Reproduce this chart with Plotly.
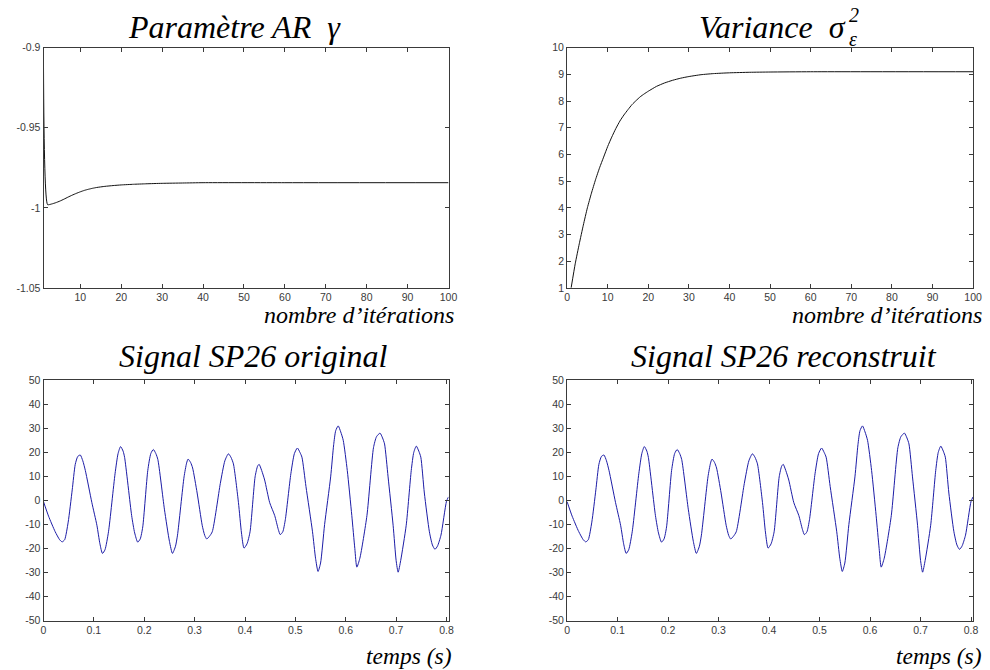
import plotly.graph_objects as go

W, H = 990, 670

# ---------------- data ----------------
gamma_iter = [1, 2, 3, 4, 5, 6, 7, 8, 9, 10, 11, 12, 13, 14, 16, 18, 20, 23, 26, 30, 35, 40, 60, 100]
gamma_vals = [-0.912, -0.998, -0.9976, -0.9968, -0.9958, -0.9946, -0.9933, -0.9921,
              -0.9910, -0.9900, -0.9891, -0.9884, -0.9878, -0.9873, -0.9866, -0.9861,
              -0.9857, -0.9853, -0.9850, -0.9847, -0.9845, -0.9843, -0.9843, -0.9843]

var_iter = [1, 2, 3, 4, 5, 6, 7, 8, 9, 10, 11, 12, 13, 14, 15, 16, 17, 18, 19, 20,
            22, 24, 26, 28, 30, 33, 36, 40, 45, 50, 60, 100]
var_vals = [1.0, 1.9, 2.65, 3.35, 4.0, 4.55, 5.05, 5.5, 5.9, 6.3, 6.65, 6.97, 7.25,
            7.48, 7.68, 7.87, 8.02, 8.16, 8.27, 8.37, 8.55, 8.68, 8.78, 8.86, 8.92,
            8.99, 9.03, 9.06, 9.08, 9.09, 9.1, 9.1]

t_signal = [0.000, 0.010, 0.023, 0.032, 0.037, 0.042, 0.049, 0.057, 0.063, 0.068,
            0.073, 0.078, 0.083, 0.096, 0.106, 0.112, 0.117, 0.122, 0.129, 0.142,
            0.148, 0.153, 0.158, 0.161, 0.175, 0.181, 0.187, 0.192, 0.197, 0.207,
            0.213, 0.218, 0.223, 0.227, 0.240, 0.250, 0.256, 0.262, 0.266, 0.279,
            0.284, 0.287, 0.292, 0.296, 0.305, 0.315, 0.320, 0.324, 0.329, 0.335,
            0.351, 0.360, 0.367, 0.372, 0.377, 0.387, 0.393, 0.398, 0.404, 0.410,
            0.420, 0.425, 0.428, 0.433, 0.439, 0.449, 0.459, 0.466, 0.470, 0.475,
            0.480, 0.491, 0.498, 0.504, 0.509, 0.513, 0.521, 0.534, 0.540, 0.545,
            0.550, 0.558, 0.570, 0.576, 0.580, 0.585, 0.590, 0.595, 0.603, 0.612,
            0.618, 0.622, 0.628, 0.642, 0.655, 0.661, 0.668, 0.673, 0.677, 0.684,
            0.694, 0.700, 0.704, 0.709, 0.720, 0.730, 0.735, 0.740, 0.745, 0.749,
            0.756, 0.766, 0.772, 0.777, 0.782, 0.789, 0.800, 0.804]
signal_original = [-0.5, -6.5, -12.9, -16.3, -17.2, -16.3, -9.0, 4.4, 15.0, 18.3,
                   18.9, 16.5, 12.5, -0.9, -10.3, -18.0, -22.0, -20.5, -13.0, 11.1,
                   19.5, 22.4, 20.5, 17.9, -6.3, -13.5, -17.3, -16.0, -11.0, 12.5,
                   19.5, 21.2, 19.5, 17.0, -3.6, -17.0, -22.0, -19.0, -14.4, 9.8,
                   15.5, 17.2, 15.8, 13.5, 3.1, -10.3, -14.5, -16.0, -15.0, -13.0,
                   7.1, 16.5, 19.4, 18.0, 15.2, -0.9, -13.5, -19.8, -18.0, -13.0,
                   9.8, 14.3, 15.0, 12.5, 8.5, -0.9, -6.3, -12.0, -14.2, -13.0,
                   -8.0, 11.1, 19.5, 21.8, 20.0, 18.0, 5.8, -13.0, -24.0, -29.5,
                   -26.0, -10.0, 9.8, 23.2, 29.0, 31.0, 28.5, 25.0, 12.5, -6.3,
                   -20.0, -27.7, -24.0, -6.3, 21.9, 26.5, 28.0, 26.0, 23.5, 9.8,
                   -10.3, -25.0, -29.8, -25.0, -10.3, 12.5, 20.0, 22.6, 20.5, 18.0,
                   3.1, -13.0, -18.5, -20.3, -19.0, -14.4, -0.3, 1.5]
signal_reconstruit = list(signal_original)

iter_ticks_tl = [10, 20, 30, 40, 50, 60, 70, 80, 90, 100]
iter_ticks_tr = [0, 10, 20, 30, 40, 50, 60, 70, 80, 90, 100]
gamma_ticks = [-1.05, -1.0, -0.95, -0.9]
gamma_labels = ["-1.05", "-1", "-0.95", "-0.9"]
var_ticks = [1, 2, 3, 4, 5, 6, 7, 8, 9, 10]
sig_yticks = [-50, -40, -30, -20, -10, 0, 10, 20, 30, 40, 50]
sig_ylabels = ["-50", "-40", "-30", "-20", "-10", "0", "10", "20", "30", "40", "50"]
sig_xticks = [0, 0.1, 0.2, 0.3, 0.4, 0.5, 0.6, 0.7, 0.8]
sig_xlabels = ["0", "0.1", "0.2", "0.3", "0.4", "0.5", "0.6", "0.7", "0.8"]

# ---------------- layout helpers ----------------
def px2x(p):
    return p / W

def px2y(p):
    return 1 - p / H

TOP = (42.5, 287)
BOT = (381, 626)
LEFT = (41, 451)
RIGHT = (571, 982)

fig = go.Figure()
fig.add_trace(go.Scatter(x=gamma_iter, y=gamma_vals, mode="lines",
                         line=dict(color="#111111", width=1, shape="spline", smoothing=0.5),
                         xaxis="x", yaxis="y"))
fig.add_trace(go.Scatter(x=var_iter, y=var_vals, mode="lines",
                         line=dict(color="#111111", width=1, shape="spline", smoothing=0.5),
                         xaxis="x2", yaxis="y2"))
fig.add_trace(go.Scatter(x=t_signal, y=signal_original, mode="lines",
                         line=dict(color="#1c1ca6", width=1, shape="spline", smoothing=0.6),
                         xaxis="x3", yaxis="y3"))
fig.add_trace(go.Scatter(x=t_signal, y=signal_reconstruit, mode="lines",
                         line=dict(color="#1c1ca6", width=1, shape="spline", smoothing=0.6),
                         xaxis="x4", yaxis="y4"))

tickfont = dict(family="Liberation Sans", size=10.5, color="#3a3a3a")
axcommon = dict(showline=True, linecolor="#3a3a3a", linewidth=1, mirror="ticks",
                ticks="inside", ticklen=4, tickcolor="#3a3a3a", showgrid=False,
                zeroline=False, tickfont=tickfont)

def xax(dom, rng, vals, text, anchor):
    d = dict(axcommon)
    d.update(domain=[px2x(dom[0]), px2x(dom[1])], range=rng, tickmode="array",
             tickvals=vals, ticktext=text, anchor=anchor)
    return d

def yax(dom, rng, vals, text, anchor):
    d = dict(axcommon)
    d.update(domain=[px2y(dom[1]), px2y(dom[0])], range=rng, tickmode="array",
             tickvals=vals, ticktext=text, anchor=anchor)
    return d

fig.update_layout(
    width=W, height=H, margin=dict(l=0, r=0, t=0, b=0),
    paper_bgcolor="white", plot_bgcolor="white", showlegend=False,
    xaxis=xax(LEFT, [1, 100], iter_ticks_tl, [str(v) for v in iter_ticks_tl], "y"),
    yaxis=yax(TOP, [-1.05, -0.9], gamma_ticks, gamma_labels, "x"),
    xaxis2=xax(RIGHT, [0, 100], iter_ticks_tr, [str(v) for v in iter_ticks_tr], "y2"),
    yaxis2=yax(TOP, [1, 10], var_ticks, [str(v) for v in var_ticks], "x2"),
    xaxis3=xax(LEFT, [0, 0.804], sig_xticks, sig_xlabels, "y3"),
    yaxis3=yax(BOT, [-50, 50], sig_yticks, sig_ylabels, "x3"),
    xaxis4=xax(RIGHT, [0, 0.804], sig_xticks, sig_xlabels, "y4"),
    yaxis4=yax(BOT, [-50, 50], sig_yticks, sig_ylabels, "x4"),
)

serif = "Liberation Serif"

def ann(text, x, y, size, xanchor="center", yanchor="middle"):
    fig.add_annotation(text=text, x=px2x(x), y=px2y(y), xref="paper", yref="paper",
                       xanchor=xanchor, yanchor=yanchor, showarrow=False,
                       font=dict(family=serif, size=size, color="black", style="italic"))

ann("Paramètre AR  γ", 234, 21, 32)
ann("Variance  σ", 779, 21, 32)
ann("2", 854, 9, 20, xanchor="left")
ann("ε", 854, 34, 20, xanchor="left")
ann("nombre d’itérations", 459, 315, 24, xanchor="right")
ann("nombre d’itérations", 993, 315, 24, xanchor="right")
ann("Signal SP26 original", 254, 356, 32)
ann("Signal SP26 reconstruit", 791, 356, 32)
ann("temps (s)", 457, 662, 23.5, xanchor="right")
ann("temps (s)", 993, 662, 23.5, xanchor="right")

fig.write_html("out.html")
